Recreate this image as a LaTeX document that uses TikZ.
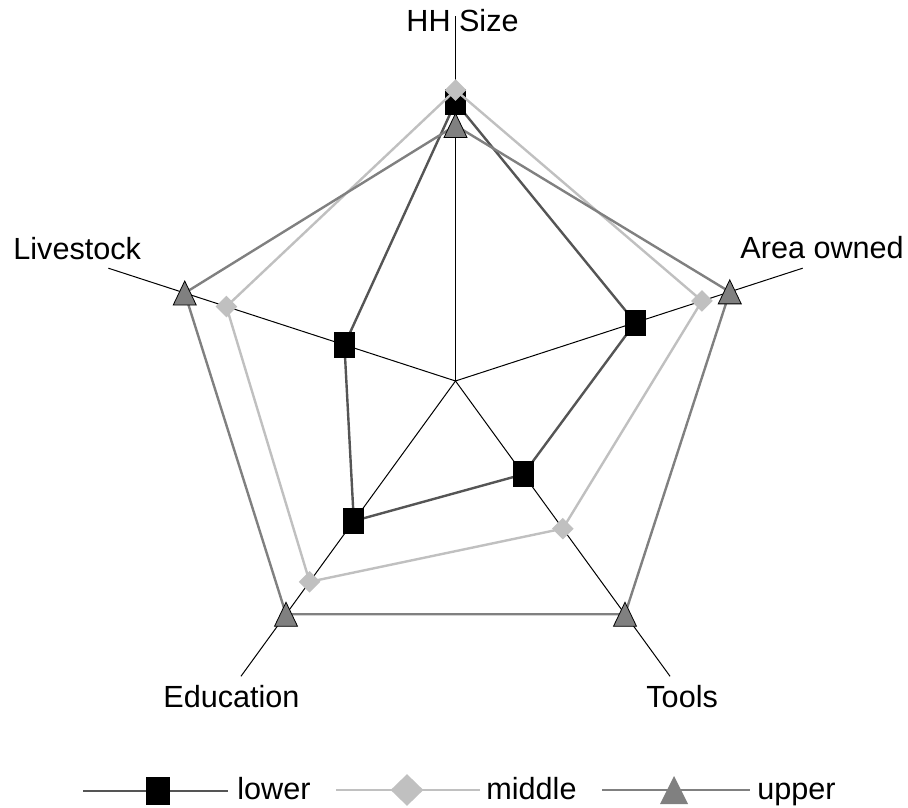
\documentclass[tikz,border=0pt]{standalone}
\usepackage{fontspec}
\setmainfont{Liberation Sans}
\usetikzlibrary{calc, shapes.geometric}

\definecolor{lowgray}{HTML}{555555}
\definecolor{midgray}{HTML}{C0C0C0}
\definecolor{upgray}{HTML}{808080}

\begin{document}
\begin{tikzpicture}[
      x=0.5pt, y=0.5pt,
      spoke/.style={draw=black, line width=0.5pt},
      lbl/.style={anchor=base west, inner sep=0pt, font=\fontsize{15.3}{18}\selectfont},
      lowline/.style={draw=lowgray, line width=1.2pt},
      midline/.style={draw=midgray, line width=1.2pt},
      upline/.style={draw=upgray, line width=1.2pt},
      sqmark/.style={rectangle, fill=black, inner sep=0pt, minimum width=10.5pt, minimum height=13pt},
      dimark/.style={diamond, fill=midgray, inner sep=0pt, minimum width=11pt, minimum height=11pt},
      trmark/.style={fill=upgray, draw=black, line width=0.4pt, line join=miter}
    ]
    \useasboundingbox (0,0) rectangle (908,807);
    \coordinate (ctr) at (455.5,426);

    % spokes
    \foreach \i in {1,...,5} {
      \coordinate (ax\i) at ($(ctr)+({90-72*(\i-1)}:365)$);
      \draw[spoke] (ctr) -- (ax\i);
    }

    % axis labels
    \node[lbl] (hh)   at (406,775) {HH Size};
    \node[lbl] (area) at (740,548) {Area owned};
    \node[lbl] (tool) at (646,99)  {Tools};
    \node[lbl] (edu)  at (163,99)  {Education};
    \node[lbl] (live) at (13,547)  {Livestock};

    % data points
    \foreach \v [count=\i] in {0.764,0.518,0.316,0.474,0.32}
      \coordinate (lo\i) at ($(ctr)+({90-72*(\i-1)}:{365*\v})$);
    \foreach \v [count=\i] in {0.797,0.71,0.50,0.68,0.66}
      \coordinate (mi\i) at ($(ctr)+({90-72*(\i-1)}:{365*\v})$);
    \foreach \v [count=\i] in {0.70,0.79,0.79,0.79,0.78}
      \coordinate (up\i) at ($(ctr)+({90-72*(\i-1)}:{365*\v})$);

    % lower
    \draw[lowline] (lo1) -- (lo2) -- (lo3) -- (lo4) -- (lo5) -- cycle;
    \foreach \i in {1,...,5}
      \node[sqmark] (losq\i) at (lo\i) {};

    % middle
    \draw[midline] (mi1) -- (mi2) -- (mi3) -- (mi4) -- (mi5) -- cycle;
    \foreach \i in {1,...,5}
      \node[dimark] (mid\i) at (mi\i) {};

    % upper
    \draw[upline] (up1) -- (up2) -- (up3) -- (up4) -- (up5) -- cycle;
    \foreach \i in {1,...,5}
      \path[trmark] (up\i) ++(-11.5,-12) -- ++(23,0) -- ++(-11.5,24) -- cycle;

    % legend
    \coordinate (lga) at (83,16);  \coordinate (lgb) at (228,16);
    \coordinate (lgc) at (336,17); \coordinate (lgd) at (480,17);
    \coordinate (lge) at (602,17); \coordinate (lgf) at (750,17);
    \draw[lowline] (lga) -- (lgb);
    \node[sqmark, minimum width=12pt, minimum height=14pt] (lgsq) at (158,16) {};
    \node[lbl] (lglow) at (237,8) {lower};
    \draw[midline] (lgc) -- (lgd);
    \node[dimark, minimum width=16.5pt, minimum height=16pt] (lgdi) at (407,17) {};
    \node[lbl] (lgmid) at (486,8) {middle};
    \draw[upline] (lge) -- (lgf);
    \path[trmark, draw=none] (674,17) ++(-14,-14) -- ++(28,0) -- ++(-14,28) -- cycle;
    \node[lbl] (lgup) at (757,8) {upper};
  \end{tikzpicture}
\end{document}
